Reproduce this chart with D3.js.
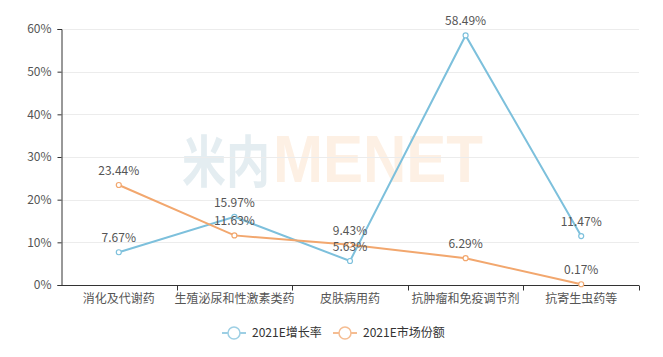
<!DOCTYPE html>
<html><head><meta charset="utf-8">
<script src="https://cdn.jsdelivr.net/npm/d3@7"></script>
<style>
html,body{margin:0;padding:0;background:#fff;}
svg{display:block;font-family:"Noto Sans CJK SC","Microsoft YaHei",sans-serif;}
</style></head>
<body>
<svg id="chart" width="663" height="357"></svg>
<script>
const categories = ["消化及代谢药","生殖泌尿和性激素类药","皮肤病用药","抗肿瘤和免疫调节剂","抗寄生虫药等"];
const seriesNames = ["2021E增长率","2021E市场份额"];
const growth = [7.67, 15.97, 5.63, 58.49, 11.47];
const share = [23.44, 11.63, 9.43, 6.29, 0.17];
const yTicks = [0, 10, 20, 30, 40, 50, 60];
const colors = ["#7dc0dc", "#f2a76e"];

const svg = d3.select("#chart");
const plotLeft = 61, plotRight = 639, plotTop = 29, plotBottom = 285;

const x = d3.scaleBand().domain(categories).range([plotLeft, plotRight]);
const y = d3.scaleLinear().domain([0, 60]).range([plotBottom, plotTop]);

// watermark
const wm = svg.append("g").attr("font-weight", "bold").attr("font-family", "Liberation Sans, Arial, sans-serif");
wm.append("text").attr("x", 182).attr("y", 182).attr("font-size", 56).attr("fill", "#e4edf1")
  .attr("font-family", "Noto Sans CJK SC").attr("textLength", 88).attr("lengthAdjust","spacingAndGlyphs").text("米内");
wm.append("text").attr("x", 273).attr("y", 182).attr("font-size", 67).attr("fill", "#fdf0e4")
  .attr("textLength", 210).attr("lengthAdjust","spacingAndGlyphs").text("MENET");

// gridlines
svg.append("g").selectAll("line").data(yTicks.filter(d => d > 0)).join("line")
  .attr("x1", plotLeft).attr("x2", plotRight)
  .attr("y1", d => Math.round(y(d)) + 0.5).attr("y2", d => Math.round(y(d)) + 0.5)
  .attr("stroke", "#ececec").attr("stroke-width", 1);

// y axis
const yAxis = d3.axisLeft(y).tickValues(yTicks).tickFormat(d => d + "%").tickSize(4).tickPadding(6);
const yg = svg.append("g").attr("transform", `translate(${plotLeft + 0.5},0)`).call(yAxis);
yg.select(".domain").attr("stroke", "#333");
yg.selectAll(".tick line").attr("stroke", "#333");
yg.selectAll(".tick text").attr("fill", "#555").attr("font-size", 12).attr("font-family", "Noto Sans CJK SC");

// x axis
const xAxis = d3.axisBottom(x).tickSize(0).tickPadding(9);
const xg = svg.append("g").attr("transform", `translate(0,${plotBottom + 0.5})`).call(xAxis);
xg.select(".domain").attr("stroke", "#333").attr("d", `M${plotLeft},0H${plotRight}`);
xg.selectAll(".tick text").attr("fill", "#555").attr("font-size", 12).attr("font-family", "Noto Sans CJK SC");
const bounds = categories.map(c => x(c) + x.bandwidth());
xg.append("g").selectAll("line").data(bounds).join("line")
  .attr("x1", d => Math.round(d) + 0.5).attr("x2", d => Math.round(d) + 0.5)
  .attr("y1", 0).attr("y2", 5).attr("stroke", "#333");

const cx = c => x(c) + x.bandwidth() / 2;
const allSeries = [growth, share];

allSeries.forEach((vals, i) => {
  const pts = categories.map((c, j) => ({c, v: vals[j]}));
  svg.append("path").datum(pts)
    .attr("fill", "none").attr("stroke", colors[i]).attr("stroke-width", 2)
    .attr("d", d3.line().x(d => cx(d.c)).y(d => y(d.v)));
  svg.append("g").selectAll("circle").data(pts).join("circle")
    .attr("cx", d => cx(d.c)).attr("cy", d => y(d.v)).attr("r", 2.5)
    .attr("fill", "#fff").attr("stroke", colors[i]).attr("stroke-width", 1.2);
});

allSeries.forEach((vals, i) => {
  const pts = categories.map((c, j) => ({c, v: vals[j]}));
  svg.append("g").selectAll("text").data(pts).join("text")
    .attr("x", d => cx(d.c)).attr("y", d => y(d.v) - 10)
    .attr("text-anchor", "middle").attr("font-size", 12).attr("fill", "#555")
    .text(d => d.v.toFixed(2) + "%");
});

// legend
const legend = svg.append("g");
const legendItems = [{x: 222, tx: 252}, {x: 333, tx: 363}];
seriesNames.forEach((n, i) => {
  const g = legend.append("g").attr("opacity", 0.75);
  const lx = legendItems[i].x, ly = 333;
  g.append("line").attr("x1", lx).attr("x2", lx + 24).attr("y1", ly).attr("y2", ly)
    .attr("stroke", colors[i]).attr("stroke-width", 2);
  g.append("circle").attr("cx", lx + 12).attr("cy", ly).attr("r", 6)
    .attr("fill", "#fff").attr("stroke", colors[i]).attr("stroke-width", 1.5);
  legend.append("text").attr("x", legendItems[i].tx).attr("y", ly).attr("dy", "0.35em")
    .attr("font-size", 12).attr("fill", "#333").text(n);
});
</script>
</body></html>
